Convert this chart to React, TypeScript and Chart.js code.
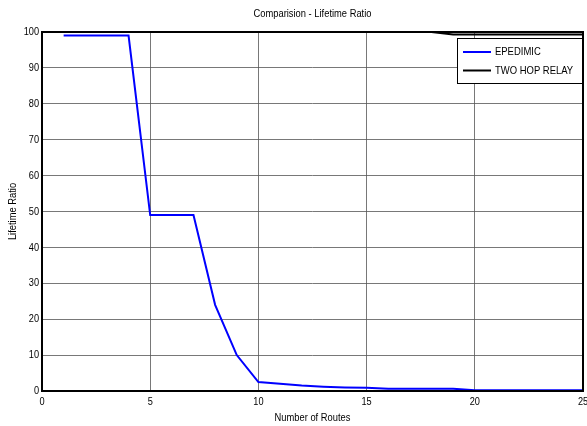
import React, { useEffect, useRef } from "react";
import { Chart, registerables } from "chart.js";

Chart.register(...registerables);

const routes = [1, 2, 3, 4, 5, 6, 7, 8, 9, 10, 11, 12, 13, 14, 15, 16, 17, 18, 19, 20, 21, 22, 23, 24, 25];
const epidemic = [99, 99, 99, 99, 49, 49, 49, 24, 10, 2.5, 2, 1.5, 1.2, 1, 0.9, 0.6, 0.6, 0.6, 0.6, 0.2, 0.2, 0.2, 0.2, 0.2, 0.2];
const twoHopRelay = [100, 100, 100, 100, 100, 100, 100, 100, 100, 100, 100, 100, 100, 100, 100, 100, 100, 100, 99.3, 99.3, 99.3, 99.3, 99.3, 99.3, 99.3];
const xTicks = [0, 5, 10, 15, 20, 25];
const yTicks = [0, 10, 20, 30, 40, 50, 60, 70, 80, 90, 100];
const chartTitle = "Comparision - Lifetime Ratio";
const xLabel = "Number of Routes";
const yLabel = "Lifetime Ratio";
const legendNames = ["EPEDIMIC", "TWO HOP RELAY"];
const colors = ["#0000ff", "#000000"];

const FONT = "'Liberation Sans', Arial, sans-serif";

function narrowText(ctx: any, text: string, x: number, y: number, size: number, sx: number, align: string, rot = 0) {
  ctx.save();
  ctx.translate(x, y);
  if (rot) ctx.rotate(rot);
  ctx.scale(sx, 1);
  ctx.font = `${size}px ${FONT}`;
  ctx.textAlign = align;
  ctx.textBaseline = "middle";
  ctx.fillStyle = "#000";
  ctx.fillText(text, 0, 0);
  ctx.restore();
}

export default function App() {
  const ref = useRef<HTMLCanvasElement | null>(null);
  useEffect(() => {
    if (!ref.current) return;
    const overlay = {
      id: "overlay",
      afterDraw(chart: any) {
        const { ctx, chartArea } = chart;
        const { left, right, top, bottom } = chartArea;
        const xs = chart.scales.x;
        const ys = chart.scales.y;
        ctx.save();
        // box
        ctx.strokeStyle = "#000";
        ctx.lineWidth = 2;
        ctx.strokeRect(left, top, right - left, bottom - top);
        // ticks labels
        xTicks.forEach((v) => narrowText(ctx, String(v), xs.getPixelForValue(v), 402, 11.5, 0.8, "center"));
        yTicks.forEach((v) => narrowText(ctx, String(v), 39, ys.getPixelForValue(v), 11.5, 0.8, "right"));
        // titles
        narrowText(ctx, chartTitle, (left + right) / 2, 14, 11, 0.85, "center");
        narrowText(ctx, xLabel, (left + right) / 2, 418, 11, 0.85, "center");
        narrowText(ctx, yLabel, 13, (top + bottom) / 2, 11, 0.85, "center", -Math.PI / 2);
        // legend
        const lx = 457, ly = 38, lw = right - 1 - lx, lh = 45;
        ctx.fillStyle = "#fff";
        ctx.fillRect(lx, ly, lw, lh);
        ctx.strokeStyle = "#000";
        ctx.lineWidth = 1;
        ctx.strokeRect(lx + 0.5, ly + 0.5, lw, lh);
        legendNames.forEach((n, i) => {
          const yy = 52 + i * 18.5;
          ctx.strokeStyle = colors[i];
          ctx.lineWidth = 2;
          ctx.beginPath();
          ctx.moveTo(463, yy);
          ctx.lineTo(491, yy);
          ctx.stroke();
          narrowText(ctx, n, 495, yy, 11, 0.86, "left");
        });
        ctx.restore();
      },
    };
    const chart = new Chart(ref.current, {
      type: "line",
      data: {
        labels: routes,
        datasets: [
          { label: legendNames[0], data: routes.map((x, i) => ({ x, y: epidemic[i] })), borderColor: colors[0], borderWidth: 2, pointRadius: 0, tension: 0, clip: false as any },
          { label: legendNames[1], data: routes.map((x, i) => ({ x, y: twoHopRelay[i] })), borderColor: colors[1], borderWidth: 2, pointRadius: 0, tension: 0, clip: false as any },
        ],
      },
      plugins: [overlay],
      options: {
        animation: false,
        responsive: false,
        maintainAspectRatio: false,
        layout: { padding: { top: 32, right: 4, left: 0, bottom: 0 } },
        plugins: { legend: { display: false }, title: { display: false }, tooltip: { enabled: false } },
        scales: {
          x: {
            type: "linear",
            min: 0,
            max: 25,
            afterBuildTicks: (s: any) => { s.ticks = xTicks.map((v) => ({ value: v })); },
            afterFit: (s: any) => { s.height = 35; s.paddingLeft = 0; s.paddingRight = 0; },
            grid: { color: "#555", lineWidth: 0.8, drawTicks: false },
            border: { display: false },
            ticks: { display: false },
          },
          y: {
            min: 0,
            max: 100,
            afterBuildTicks: (s: any) => { s.ticks = yTicks.map((v) => ({ value: v })); },
            afterFit: (s: any) => { s.width = 42; s.paddingTop = 0; s.paddingBottom = 0; },
            grid: { color: "#555", lineWidth: 0.8, drawTicks: false },
            border: { display: false },
            ticks: { display: false },
          },
        },
      },
    });
    return () => chart.destroy();
  }, []);
  return (
    <div style={{ position: "fixed", left: 0, top: 0, width: 587, height: 426, background: "#fff" }}>
      <canvas ref={ref} width={587} height={426} style={{ width: 587, height: 426 }} />
    </div>
  );
}
